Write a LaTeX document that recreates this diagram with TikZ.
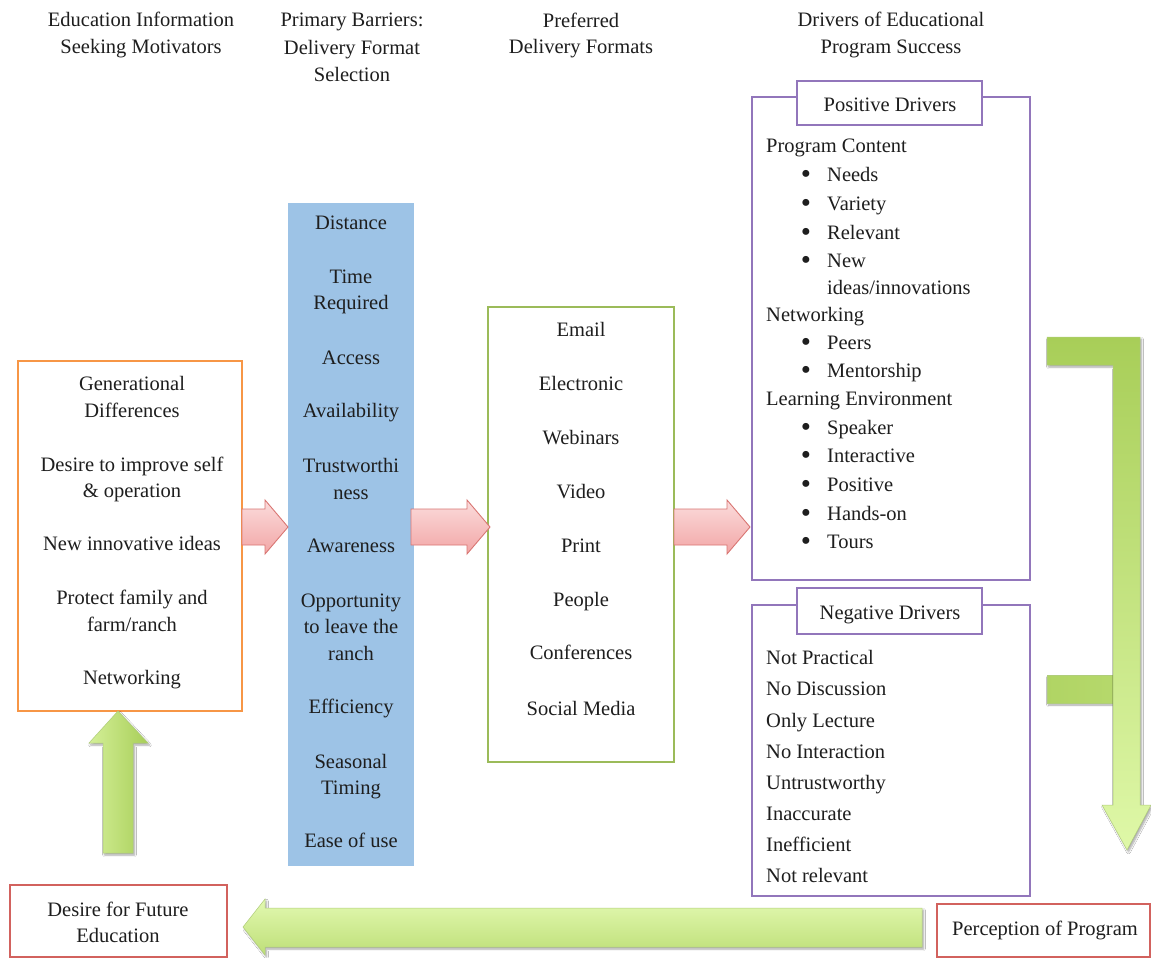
\documentclass[tikz,border=0pt]{standalone}
\usepackage{fontspec}
\setmainfont{Liberation Serif}
\usetikzlibrary{shadows.blur}
\definecolor{ink}{HTML}{1E1E1E}
\definecolor{orangeb}{HTML}{F79646}
\definecolor{greenb}{HTML}{9BBB59}
\definecolor{purpleb}{HTML}{9276BB}
\definecolor{redb}{HTML}{D2625E}
\definecolor{bluef}{HTML}{9DC3E6}
\definecolor{pinkA}{HTML}{FBDCDC}
\definecolor{pinkB}{HTML}{F2A6A6}
\definecolor{pinkD}{HTML}{D97673}
\definecolor{grA}{HTML}{A8CE58}
\definecolor{grB}{HTML}{DFF8A8}
\definecolor{grD}{HTML}{9CC15A}
\tikzset{
  txt/.style={font=\fontsize{20.5}{26.5}\selectfont, inner sep=0pt, text=ink, align=center,
    execute at begin node=\strut, execute at end node=\strut, yshift=-2pt},
  ml/.style={txt, yshift=-3pt},
  ltxt/.style={txt, anchor=west, align=left},
  bul/.style={font=\fontsize{29}{29}\selectfont, inner sep=0pt, text=ink, yshift=-2.5pt},
  frame/.style={line width=2.8pt},
  pinkarrow/.style={draw=pinkD, line width=0.9pt, top color=pinkA, bottom color=pinkB, line join=miter},
  grarrow/.style={draw=grD!80, line width=0.5pt, blur shadow={shadow xshift=1.5pt, shadow yshift=-2pt, shadow blur steps=6, shadow opacity=35}},
}
\newcommand\hblock[4]{% x1, xbase, xtip, yc
  \path[pinkarrow] (#1,#4-18) -- (#2,#4-18) -- (#2,#4-27) -- (#3,#4) -- (#2,#4+27) -- (#2,#4+18) -- (#1,#4+18) -- cycle;}
\begin{document}
\begin{tikzpicture}[x=1pt,y=-1pt]
\useasboundingbox (0,0) rectangle (1151,958);
\fill[white] (0,0) rectangle (1151,958);

% headers
\node[ml] (h1) at (141,32) {Education Information\\Seeking Motivators};
\node[ml, font=\fontsize{20.5}{27.5}\selectfont] (h2) at (352,46.5) {Primary Barriers:\\Delivery Format\\Selection};
\node[ml] (h3) at (581,32.5) {Preferred\\Delivery Formats};
\node[ml] (h4) at (891,32) {Drivers of Educational\\Program Success};

% motivators box
\draw[frame, draw=orangeb, fill=white] (18,361) rectangle (242,711);
\node[ml] (m1) at (132,396) {Generational\\Differences};
\node[ml] (m2) at (132,476.5) {Desire to improve self\\\& operation};
\node[txt] (m3) at (132,543) {New innovative ideas};
\node[ml] (m4) at (132,610) {Protect family and\\farm/ranch};
\node[txt] (m5) at (132,677) {Networking};

% barriers column
\fill[bluef] (288,203) rectangle (414,866);
\node[txt] (b1) at (351,222) {Distance};
\node[ml] (b2) at (351,288.5) {Time\\Required};
\node[txt] (b3) at (351,357) {Access};
\node[txt] (b4) at (351,410) {Availability};
\node[ml] (b5) at (351,478) {Trustworthi\\ness};
\node[txt] (b6) at (351,545) {Awareness};
\node[ml] (b7) at (351,626) {Opportunity\\to leave the\\ranch};
\node[txt] (b8) at (351,706) {Efficiency};
\node[ml] (b9) at (351,773.5) {Seasonal\\Timing};
\node[txt] (b10) at (351,840) {Ease of use};

% formats box
\draw[frame, draw=greenb, fill=white] (488,307) rectangle (674,762);
\foreach \t/\y [count=\i] in {Email/329, Electronic/383, Webinars/437, Video/491, Print/545, People/599, Conferences/652, Social Media/708}
  \node[txt] (f\i) at (581,\y) {\t};

% pink block arrows
\hblock{242}{265}{288}{527}
\hblock{411}{467}{490}{527}
\hblock{674}{727}{750}{527}

% positive drivers
\draw[frame, draw=purpleb, fill=white] (752,97) rectangle (1030,580);
\draw[frame, draw=purpleb, fill=white] (797,81) rectangle (982,125);
\node[txt] (pt) at (890,104) {Positive Drivers};
\node[ltxt] (p0) at (766,145) {Program Content};
\foreach \t/\y [count=\i] in {Needs/174, Variety/203, Relevant/232, New/260}
  {\node[bul] at (806,\y) {\textbullet}; \node[ltxt] (pa\i) at (827,\y) {\t};}
\node[ltxt] (pa5) at (827,287) {ideas/innovations};
\node[ltxt] (p1) at (766,314) {Networking};
\foreach \t/\y [count=\i] in {Peers/342, Mentorship/370}
  {\node[bul] at (806,\y) {\textbullet}; \node[ltxt] (pb\i) at (827,\y) {\t};}
\node[ltxt] (p2) at (766,398) {Learning Environment};
\foreach \t/\y [count=\i] in {Speaker/427, Interactive/455, Positive/484, Hands-on/513, Tours/541}
  {\node[bul] at (806,\y) {\textbullet}; \node[ltxt] (pc\i) at (827,\y) {\t};}

% negative drivers
\draw[frame, draw=purpleb, fill=white] (752,605) rectangle (1030,896);
\draw[frame, draw=purpleb, fill=white] (797,588) rectangle (982,634);
\node[txt] (nt) at (890,612) {Negative Drivers};
\foreach \t/\y [count=\i] in {Not Practical/657, No Discussion/688, Only Lecture/720, No Interaction/751, Untrustworthy/782, Inaccurate/813, Inefficient/844, Not relevant/875}
  \node[ltxt] (n\i) at (766,\y) {\t};

% right green L arrow
\path[grarrow, left color=grA!85!grB, right color=grA!75!grB] (1047,675) rectangle (1118,703);
\path[grarrow, top color=grA, bottom color=grB]
  (1047,337) -- (1140,337) -- (1140,805) -- (1151,805) -- (1127,850) -- (1102,805) -- (1113,805) -- (1113,365) -- (1047,365) -- cycle;

% bottom boxes
\draw[frame, draw=redb, fill=white] (10,885) rectangle (227,957);
\node[ml] (d) at (118,921) {Desire for Future\\Education};
\draw[frame, draw=redb, fill=white] (937,904) rectangle (1150,957);
\node[txt] (pp) at (1045,928) {Perception of Program};

% bottom arrow (Perception -> Desire)
\path[grarrow, top color=grB!90!white, bottom color=grA!60!grB]
  (922,908) -- (265,908) -- (265,899) -- (243,927) -- (265,955) -- (265,947) -- (922,947) -- cycle;

% up arrow (Desire -> motivators)
\path[grarrow, left color=grB!80!grA, right color=grA]
  (103,853) -- (103,743) -- (89,743) -- (118,711) -- (148,743) -- (133,743) -- (133,853) -- cycle;
\end{tikzpicture}
\end{document}
